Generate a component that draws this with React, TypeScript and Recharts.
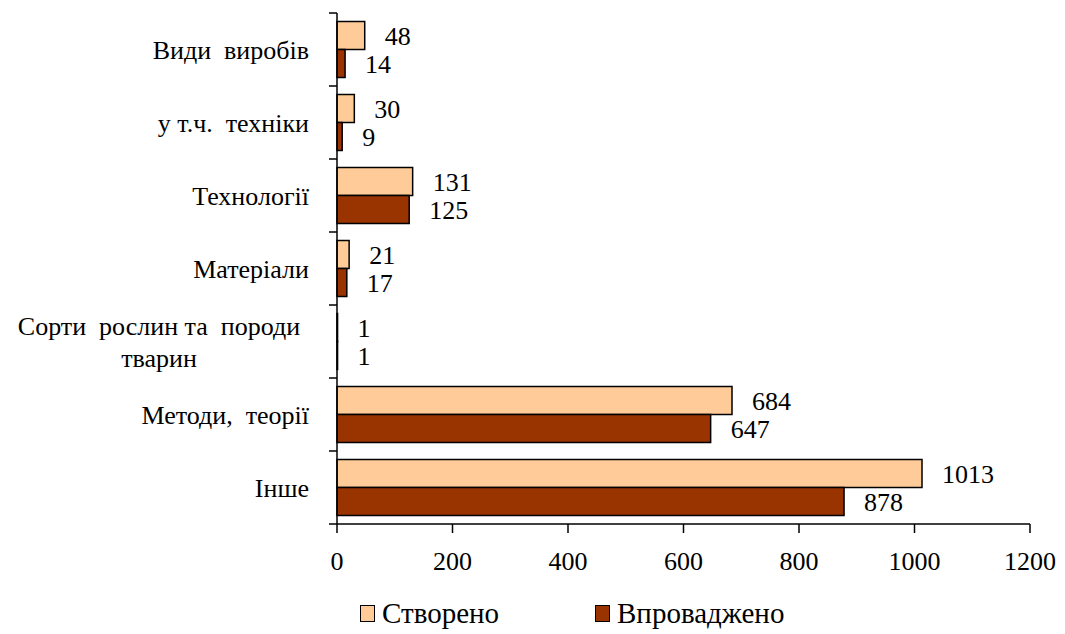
import React from 'react';
import { BarChart, Bar, XAxis, YAxis, Legend, LabelList } from 'recharts';

const categories = [
  'Види  виробів',
  'у т.ч.  техніки',
  'Технології',
  'Матеріали',
  'Сорти  рослин та  породи\nтварин',
  'Методи,  теорії',
  'Інше',
];
const created = [48, 30, 131, 21, 1, 684, 1013];
const implemented = [14, 9, 125, 17, 1, 647, 878];
const xTicks = [0, 200, 400, 600, 800, 1000, 1200];

const W = 1065;
const H = 634;
const MARGIN = { top: 13, right: 35, left: 0, bottom: 0 };
const X_AXIS_H = 60;
const LEGEND_H = 50;
const PLOT_H = H - MARGIN.top - X_AXIS_H - LEGEND_H;
const BAND = PLOT_H / categories.length;
const FONT = '"Liberation Serif", Tinos, "Noto Serif", "DejaVu Serif", "Times New Roman", Times, FreeSerif, serif';

const data = categories.map((name, i) => ({
  name,
  created: created[i],
  implemented: implemented[i],
}));

function CategoryTick(props: any) {
  const { x, y, payload, index } = props;
  const axisX = x + 28;
  const lines = String(payload.value).split('\n');
  const isLast = index === categories.length - 1;
  return (
    <g>
      <line x1={axisX - 8} x2={axisX} y1={y - BAND / 2} y2={y - BAND / 2} stroke="#000" strokeWidth={1.5} />
      {isLast && (
        <line x1={axisX - 8} x2={axisX} y1={y + BAND / 2} y2={y + BAND / 2} stroke="#000" strokeWidth={1.5} />
      )}
      {lines.length === 1 ? (
        <text x={x} y={y} dy="0.35em" textAnchor="end" fontSize={26} style={{ whiteSpace: 'pre', fontFamily: FONT }} fill="#000">
          {lines[0]}
        </text>
      ) : (
        <text x={x - 150} y={y} textAnchor="middle" fontSize={26} style={{ whiteSpace: 'pre', fontFamily: FONT }} fill="#000">
          {lines.map((l, i) => (
            <tspan key={i} x={x - 150} y={y + (i - (lines.length - 1) / 2) * 32} dy="0.35em">
              {l}
            </tspan>
          ))}
        </text>
      )}
    </g>
  );
}

function LegendContent() {
  const items = [
    { label: 'Створено', color: '#FFCC99' },
    { label: 'Впроваджено', color: '#993300' },
  ];
  return (
    <div style={{ height: LEGEND_H, display: 'flex', alignItems: 'center', paddingLeft: 360, paddingTop: 8, boxSizing: 'border-box', fontFamily: FONT, fontSize: 29 }}>
      {items.map((it, i) => (
        <div key={it.label} style={{ display: 'flex', alignItems: 'center', marginRight: i === 0 ? 96 : 0 }}>
          <span style={{ width: 13, height: 15, background: it.color, border: '1.5px solid #000', marginRight: 7, display: 'inline-block' }} />
          <span>{it.label}</span>
        </div>
      ))}
    </div>
  );
}

export default function App() {
  return (
    <div style={{ position: 'absolute', left: 0, top: 0, width: W, height: H, background: '#fff', fontFamily: FONT }}>
      <BarChart
        width={W}
        height={H}
        data={data}
        layout="vertical"
        margin={MARGIN}
        barCategoryGap="11.6%"
        barGap={0}
        style={{ fontFamily: FONT }}
      >
        <XAxis
          type="number"
          domain={[0, 1200]}
          ticks={xTicks}
          height={X_AXIS_H}
          axisLine={{ stroke: '#000', strokeWidth: 1.5 }}
          tickLine={{ stroke: '#000', strokeWidth: 1.5 }}
          tickSize={9}
          tickMargin={19}
          tick={{ fill: '#000', fontSize: 26, style: { fontFamily: FONT } }}
          interval={0}
        />
        <YAxis
          type="category"
          dataKey="name"
          width={337}
          axisLine={{ stroke: '#000', strokeWidth: 1.5 }}
          tickLine={false}
          tickSize={0}
          tickMargin={28}
          tick={<CategoryTick />}
          interval={0}
        />
        <Legend verticalAlign="bottom" align="left" content={<LegendContent />} />
        <Bar dataKey="created" name="Створено" fill="#FFCC99" stroke="#000" strokeWidth={1.5} isAnimationActive={false}>
          <LabelList dataKey="created" position="right" offset={20} fill="#000" fontSize={26} style={{ fontFamily: FONT }} />
        </Bar>
        <Bar dataKey="implemented" name="Впроваджено" fill="#993300" stroke="#000" strokeWidth={1.5} isAnimationActive={false}>
          <LabelList dataKey="implemented" position="right" offset={20} fill="#000" fontSize={26} style={{ fontFamily: FONT }} />
        </Bar>
      </BarChart>
    </div>
  );
}
